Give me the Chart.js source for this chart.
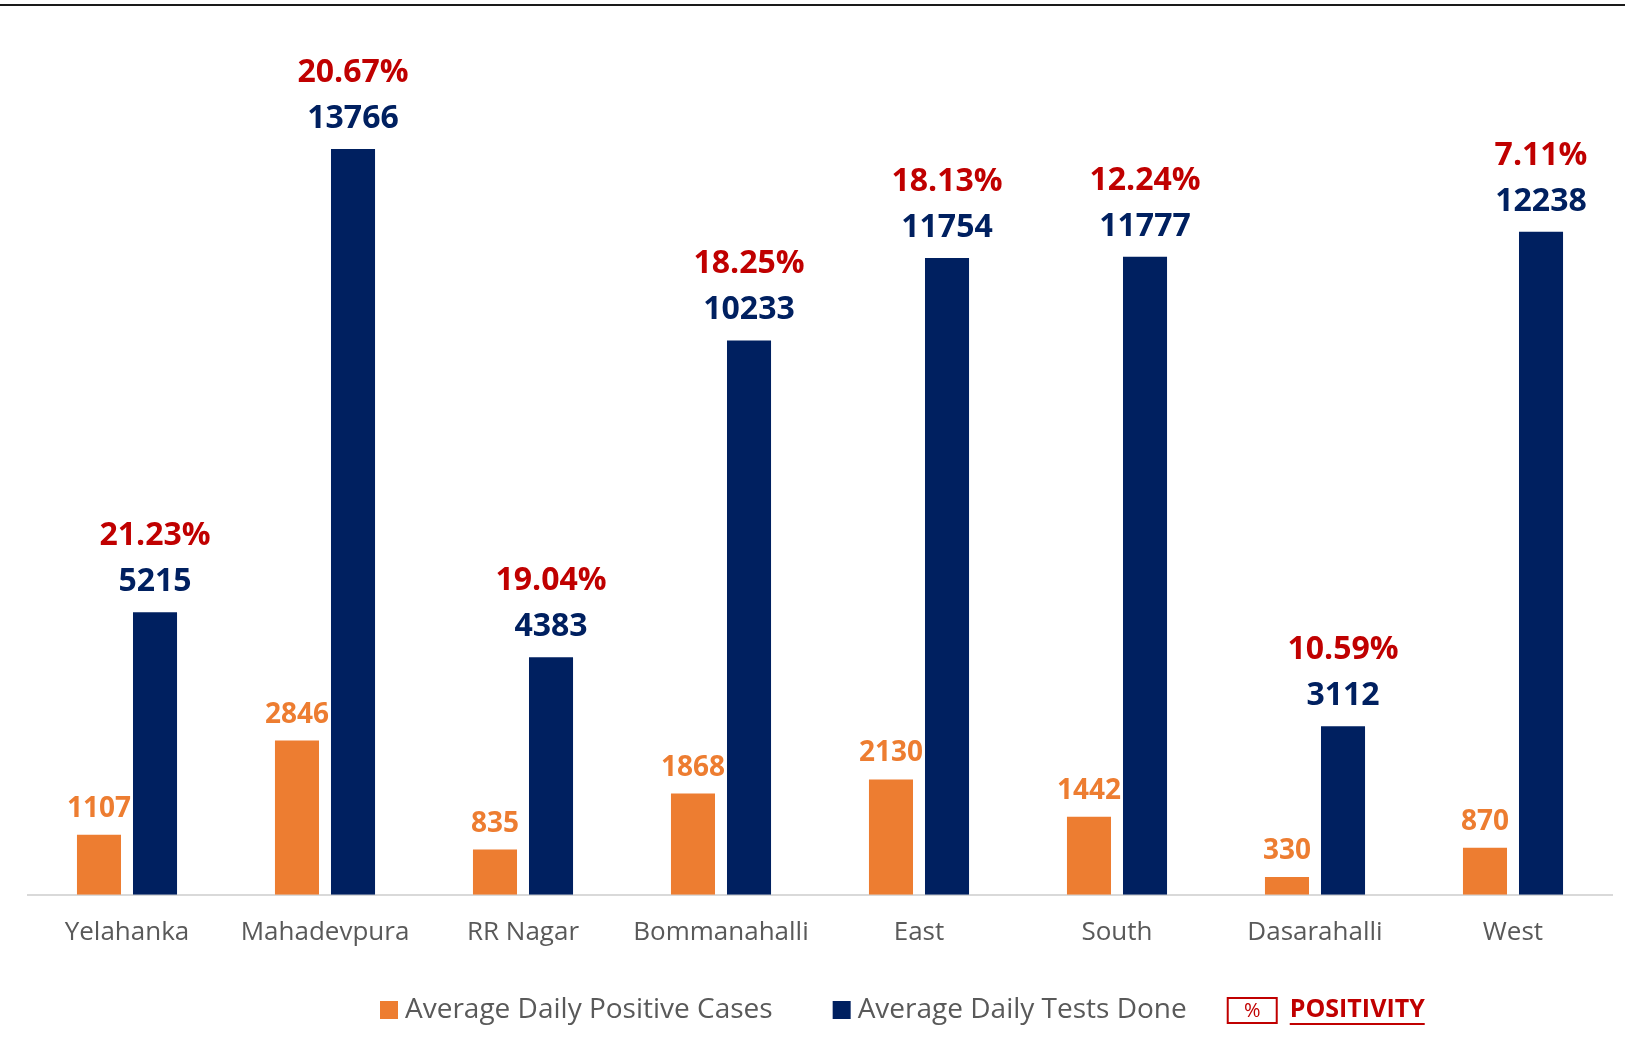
<!DOCTYPE html>
<html>
<head>
<meta charset="utf-8">
<script src="https://cdn.jsdelivr.net/npm/chart.js@4.4.1/dist/chart.umd.min.js"></script>
<style>
  html, body { margin: 0; padding: 0; background: #fff; }
  #wrap { position: relative; width: 1625px; height: 1048px; }
  #topline { position: absolute; left: 0; top: 4px; width: 1625px; height: 2px; background: #1a1a1a; }
  #chart { position: absolute; left: 0; top: 0; }
</style>
</head>
<body>
<div id="wrap">
  <canvas id="chart" width="1625" height="1048"></canvas>
  <div id="topline"></div>
</div>
<script>
const zones = ['Yelahanka', 'Mahadevpura', 'RR Nagar', 'Bommanahalli', 'East', 'South', 'Dasarahalli', 'West'];
const positiveCases = [1107, 2846, 835, 1868, 2130, 1442, 330, 870];
const testsDone = [5215, 13766, 4383, 10233, 11754, 11777, 3112, 12238];
const positivity = ['21.23%', '20.67%', '19.04%', '18.25%', '18.13%', '12.24%', '10.59%', '7.11%'];

const FONT = "'Open Sans', 'Noto Sans', sans-serif";
const ORANGE = '#ED7D31';
const NAVY = '#002060';
const RED = '#C00000';
const GREY = '#595959';

// labels above the bars
const barLabels = {
  id: 'barLabels',
  afterDatasetsDraw(chart) {
    const ctx = chart.ctx;
    ctx.save();
    ctx.textAlign = 'center';
    ctx.textBaseline = 'alphabetic';
    chart.getDatasetMeta(0).data.forEach((bar, i) => {
      ctx.font = 'bold 28px ' + FONT;
      ctx.fillStyle = ORANGE;
      ctx.fillText(positiveCases[i], bar.x, bar.y - 18);
    });
    chart.getDatasetMeta(1).data.forEach((bar, i) => {
      ctx.font = 'bold 32px ' + FONT;
      ctx.fillStyle = NAVY;
      ctx.fillText(testsDone[i], bar.x, bar.y - 21);
      ctx.fillStyle = RED;
      ctx.fillText(positivity[i], bar.x, bar.y - 67);
    });
    ctx.restore();
  }
};

// legend row at the bottom
const bottomLegend = {
  id: 'bottomLegend',
  afterDraw(chart) {
    const ctx = chart.ctx;
    const cy = 1010;
    let x = 380;
    ctx.save();
    ctx.textBaseline = 'middle';
    ctx.textAlign = 'left';
    chart.data.datasets.forEach((ds, i) => {
      ctx.fillStyle = ds.backgroundColor;
      ctx.fillRect(x, cy - 9, 18, 18);
      x += 25;
      ctx.font = '28px ' + FONT;
      ctx.fillStyle = GREY;
      ctx.fillText(ds.label, x, cy);
      x += ctx.measureText(ds.label).width + 60;
    });
    x -= 19;
    ctx.strokeStyle = RED;
    ctx.lineWidth = 2;
    ctx.strokeRect(x, cy - 12, 49, 25);
    ctx.font = '20px ' + FONT;
    ctx.fillStyle = RED;
    ctx.textAlign = 'center';
    ctx.fillText('%', x + 24.5, cy + 1);
    x += 62;
    ctx.textAlign = 'left';
    ctx.font = 'bold 25px ' + FONT;
    const txt = 'POSITIVITY';
    ctx.fillText(txt, x, cy);
    const w = ctx.measureText(txt).width;
    ctx.fillRect(x, cy + 13, w, 2);
    ctx.restore();
  }
};

new Chart(document.getElementById('chart'), {
  type: 'bar',
  data: {
    labels: zones,
    datasets: [{
      label: 'Average Daily Positive Cases',
      data: positiveCases,
      backgroundColor: ORANGE,
      borderWidth: 0,
      categoryPercentage: 0.566,
      barPercentage: 0.786
    }, {
      label: 'Average Daily Tests Done',
      data: testsDone,
      backgroundColor: NAVY,
      borderWidth: 0,
      categoryPercentage: 0.566,
      barPercentage: 0.786
    }]
  },
  options: {
    responsive: false,
    animation: false,
    devicePixelRatio: 1,
    layout: { padding: { left: 28, right: 13, top: 28, bottom: 86 } },
    scales: {
      x: {
        grid: { display: false },
        border: { display: true, color: '#d9d9d9', width: 2 },
        ticks: { color: GREY, font: { family: FONT, size: 26 }, padding: 14 }
      },
      y: { display: false, min: 0, max: 16000 }
    },
    plugins: {
      legend: { display: false },
      tooltip: { enabled: false }
    }
  },
  plugins: [barLabels, bottomLegend]
});
</script>
</body>
</html>
